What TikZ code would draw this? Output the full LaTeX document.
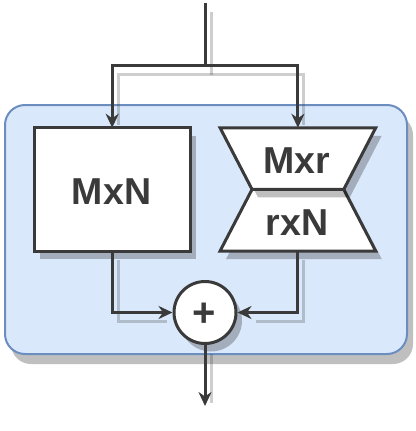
\documentclass[tikz,border=0pt]{standalone}
\usepackage{fontspec}
\setmainfont{Liberation Sans}
\usetikzlibrary{arrows.meta,shadows}
\definecolor{dk}{HTML}{3A3A3A}
\definecolor{blfill}{HTML}{DAE8FC}
\definecolor{bldraw}{HTML}{6C8EBF}
\tikzset{
  shd/.style={drop shadow={shadow xshift=6pt, shadow yshift=-8pt, opacity=0.25, fill=black}},
  boxshape/.style={draw=dk, line width=3pt, fill=white},
  lbl/.style={text=dk, font=\fontsize{37.5}{40}\selectfont\bfseries, inner sep=0pt},
  conn/.style={draw=dk, line width=3pt},
  arr/.style={conn, -{Stealth[length=14pt, width=13pt, inset=4.5pt]}},
  lsh/.style={opacity=0.25, transform canvas={shift={(6pt,-9pt)}}},
  shortarr/.style={conn, shorten >=12pt}
}
\begin{document}
\begin{tikzpicture}[x=1pt,y=-1pt]
\useasboundingbox (0,0) rectangle (415,431);
% container
\node[draw=bldraw, line width=2pt, fill=blfill, rounded corners=20pt,
      minimum width=402pt, minimum height=249pt, inner sep=0pt,
      drop shadow={shadow xshift=6pt, shadow yshift=-10pt, opacity=0.25, fill=black}]
      (blk) at (206,229.5) {};
% invisible frames for shapes
\node[minimum width=155.7pt, minimum height=123.3pt, inner sep=0pt, outer sep=0pt] (mxn) at (112.2,189.4) {};
\node[minimum width=155.7pt, minimum height=123.3pt, inner sep=0pt, outer sep=0pt] (lr) at (297.9,189.4) {};
\node[circle, minimum size=62pt, inner sep=0pt, outer sep=1.5pt] (sum) at (205,312.5) {};
\coordinate (in) at (205,3);
\coordinate (split) at (205,65.7);
\coordinate (out) at (205,406);
% connector shadows
\begin{scope}[lsh]
\draw[conn] (in) -- (split);
\draw[shortarr] (split) -| (mxn.north);
\draw[shortarr] (split) -| (lr.north);
\draw[shortarr] (mxn.south) |- (sum.west);
\draw[shortarr] (lr.south) |- (sum.east);
\draw[shortarr] (sum.south) -- (out);
\end{scope}
% shapes
\draw[boxshape, shd] (mxn.north west) rectangle (mxn.south east);
\draw[boxshape, shd] ([xshift=32pt]lr.west) -- ([xshift=-32pt]lr.east) -- (lr.south east) -- (lr.south west) -- cycle;
\draw[boxshape, shd] (lr.north west) -- (lr.north east) -- ([xshift=-32pt]lr.east) -- ([xshift=32pt]lr.west) -- cycle;
\draw[boxshape, shd] (sum.center) circle (31pt);
% labels
\node[lbl, anchor=base] (t1) at (111.5,204) {MxN};
\node[lbl, anchor=base] (t2) at (296.5,173) {Mxr};
\node[lbl, anchor=base] (t3) at (297,235) {rxN};
\node[lbl, font=\fontsize{40}{42}\selectfont\bfseries] (plus) at (204.3,314.6) {+};
% connectors
\draw[conn] (in) -- (split);
\draw[arr] (split) -| (mxn.north);
\draw[arr] (split) -| (lr.north);
\draw[arr] (mxn.south) |- (sum.west);
\draw[arr] (lr.south) |- (sum.east);
\draw[arr] (sum.south) -- (out);
\end{tikzpicture}
\end{document}
